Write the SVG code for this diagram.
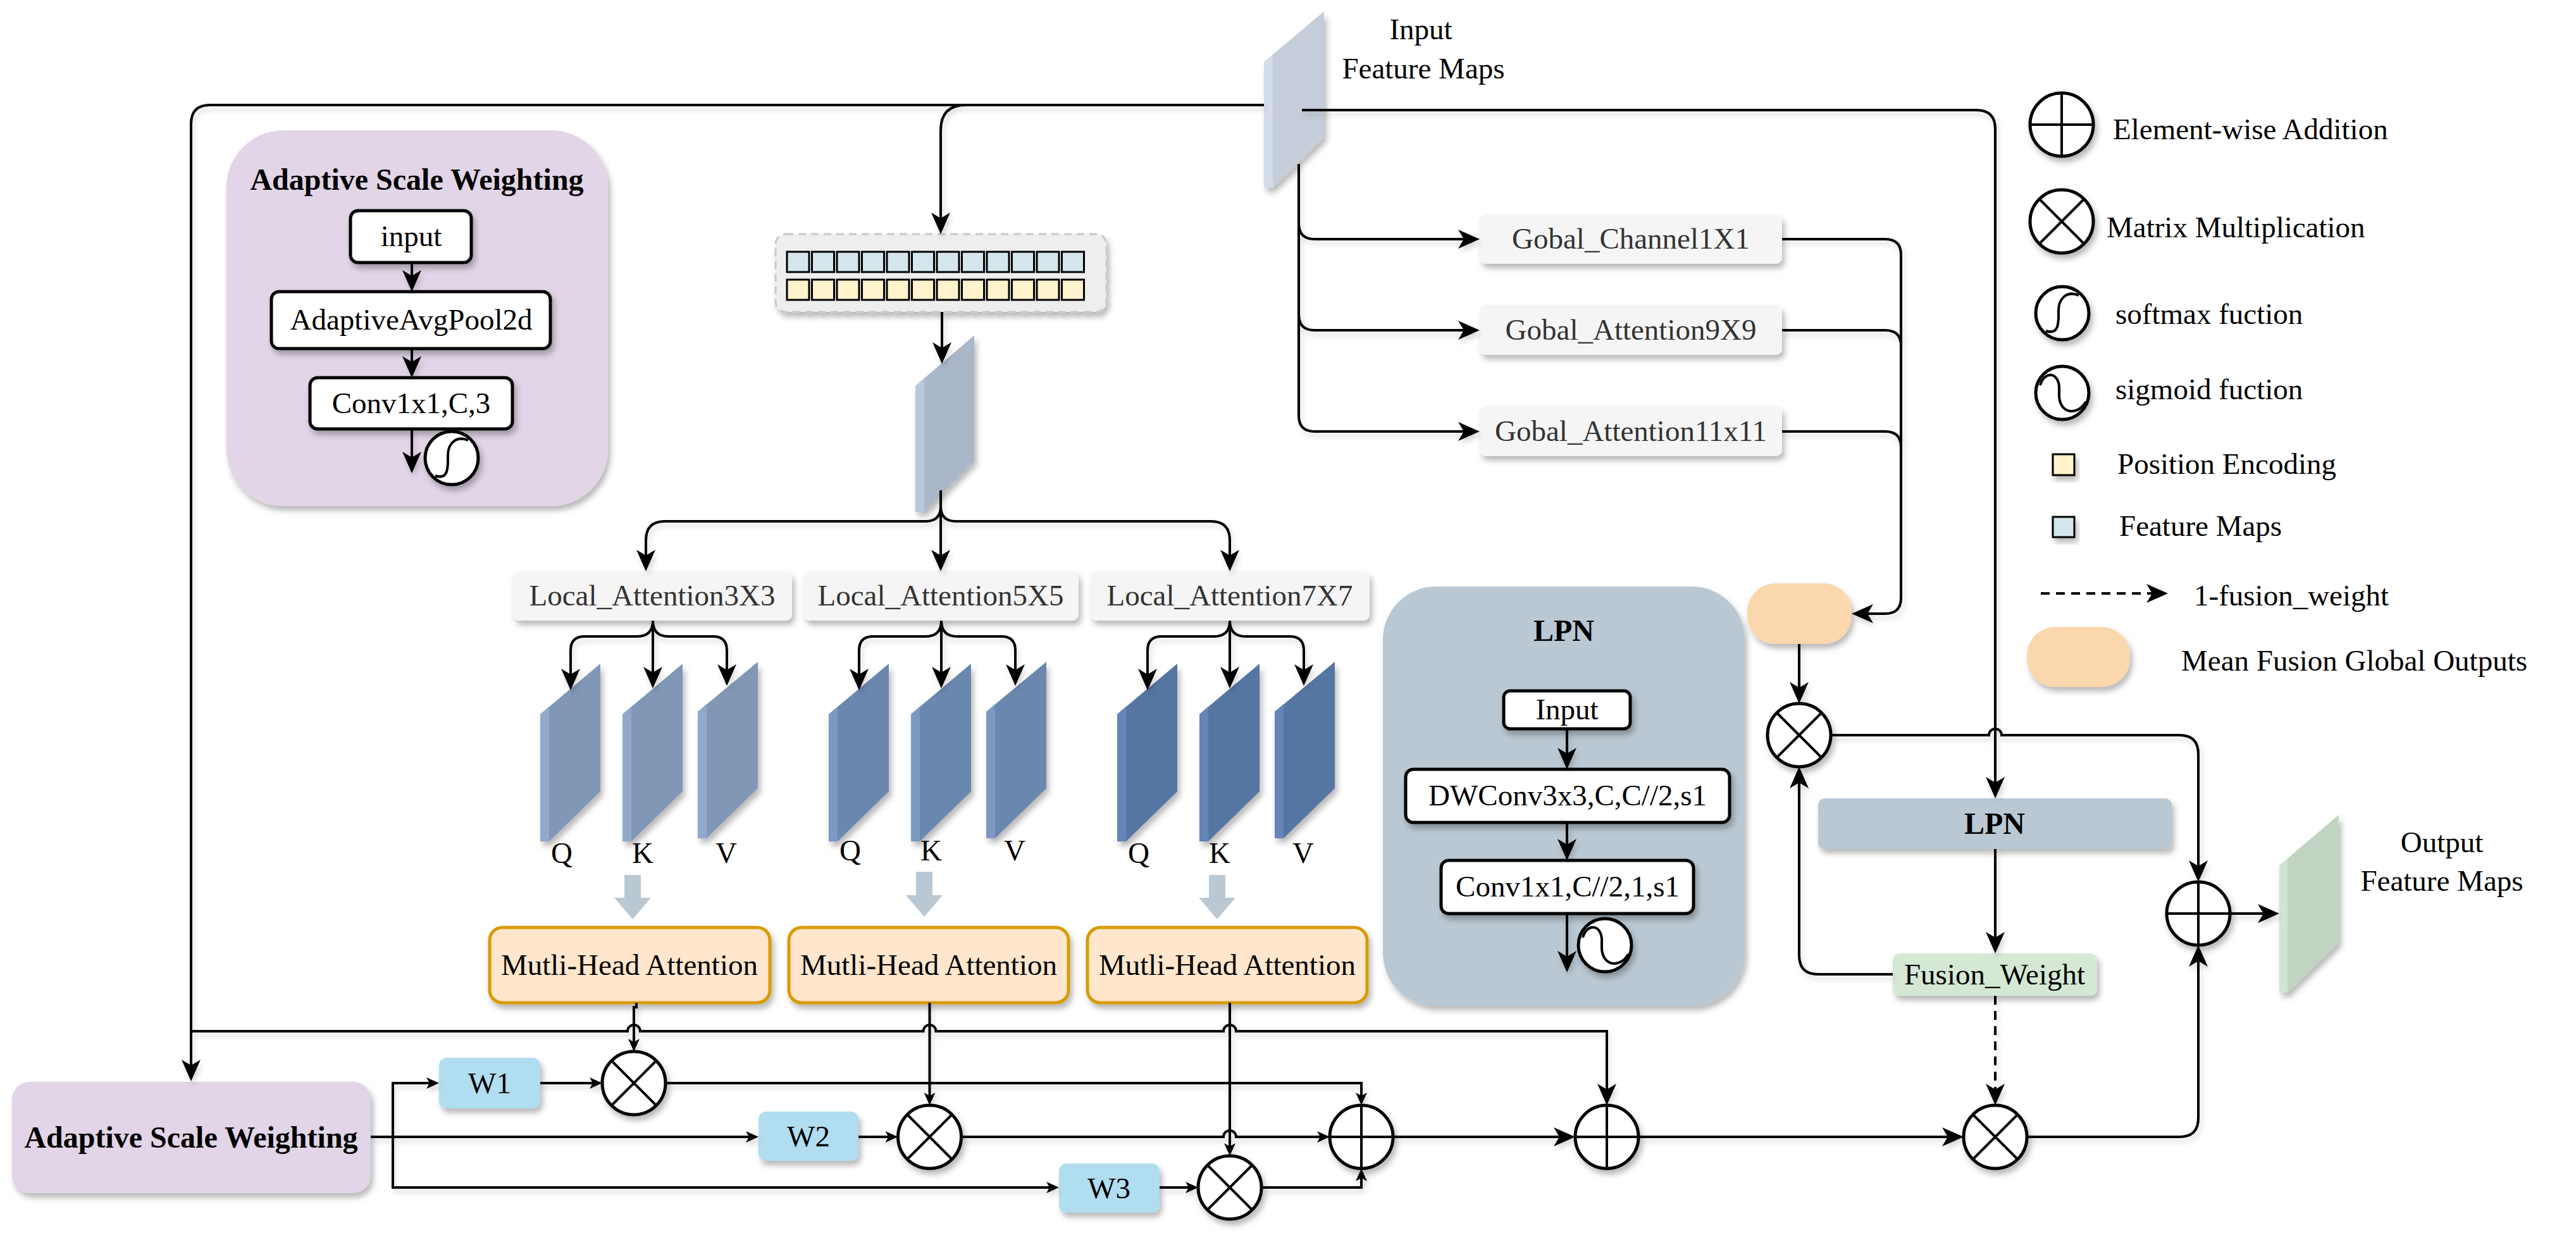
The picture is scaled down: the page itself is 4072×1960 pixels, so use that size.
<svg xmlns="http://www.w3.org/2000/svg" width="4072" height="1960" viewBox="0 0 4072 1960">
<defs>
<style>
.t{font-family:"Liberation Serif","Times New Roman",serif;font-size:47px;fill:#000}
.m{text-anchor:middle}
.bd{font-weight:bold;font-size:48px}
.g3{fill:#333}
.ln{fill:none;stroke:#000;stroke-width:4}
.dash{stroke-dasharray:14 10}
.B{marker-end:url(#ab)}
.S{marker-end:url(#as)}
.op circle{fill:#fff;stroke:#000;stroke-width:5}
.op path{fill:none;stroke:#000;stroke-width:4}
.wb{fill:#fff;stroke:#000;stroke-width:5}
.gb{fill:#f5f5f5}
.mha{fill:#ffe6cc;stroke:#d79b00;stroke-width:5}
.wbx{fill:#b1ddf0}
.sd{filter:url(#sh)}
.tb{fill:#d4e6ec;stroke:#000;stroke-width:3}
.ty{fill:#fff2cc;stroke:#000;stroke-width:3}
.barrow{fill:#bac8d3}
</style>
<filter id="sh" x="-15%" y="-15%" width="140%" height="150%"><feDropShadow dx="4" dy="7" stdDeviation="5" flood-color="#000" flood-opacity="0.28"/></filter>
<filter id="shl" filterUnits="userSpaceOnUse" x="0" y="0" width="4072" height="1960"><feDropShadow dx="3" dy="6" stdDeviation="4" flood-color="#000" flood-opacity="0.16"/></filter>
<marker id="ab" markerUnits="userSpaceOnUse" markerWidth="34" markerHeight="30" viewBox="0 0 34 30" refX="26" refY="15" orient="auto"><path d="M0,0 L34,15 L0,30 L9,15 Z" fill="#000"/></marker>
<marker id="as" markerUnits="userSpaceOnUse" markerWidth="20" markerHeight="18" viewBox="0 0 20 18" refX="14" refY="9" orient="auto"><path d="M0,0 L20,9 L0,18 L5,9 Z" fill="#000"/></marker>
</defs>
<rect width="4072" height="1960" fill="#fff"/>

<g id="nodes">
<!-- Input feature maps -->
<g id="input-fm" class="sd">
<polygon points="1998,98 2093,18 2093,217 2012,297 1998,297" fill="#c4cdd9"/>
<polygon points="1998,98 2012,86 2012,297 1998,297" fill="#d3dde9"/>
</g>
<g id="input-label">
<text class="t m" x="2246" y="62">Input</text>
<text class="t m" x="2250" y="124">Feature Maps</text>
</g>

<!-- Adaptive Scale Weighting panel -->
<g id="asw-panel">
<rect class="sd" x="358" y="206" width="603" height="594" rx="90" fill="#e1d5e7"/>
<text class="t m bd" x="659" y="300">Adaptive Scale Weighting</text>
<rect class="wb sd" x="554" y="333" width="191" height="82" rx="12"/>
<text class="t m" x="650" y="389">input</text>
<rect class="wb sd" x="429" y="461" width="441" height="90" rx="12"/>
<text class="t m" x="650" y="521">AdaptiveAvgPool2d</text>
<rect class="wb sd" x="490" y="597" width="320" height="81" rx="12"/>
<text class="t m" x="650" y="653">Conv1x1,C,3</text>
<g class="op sd"><circle cx="714" cy="724" r="42"/><path d="M688,752 C706,758 708,744 708,728 L708,720 C708,700 722,688 740,696"/></g>
</g>

<!-- Tokens -->
<g id="tokens">
<rect class="sd" x="1226" y="370" width="523" height="123" rx="16" fill="#eeeeee" stroke="#c8c8c8" stroke-width="3" stroke-dasharray="12 8"/>
<rect class="tb" x="1244" y="398" width="35" height="32"/><rect class="tb" x="1283.5" y="398" width="35" height="32"/><rect class="tb" x="1323" y="398" width="35" height="32"/><rect class="tb" x="1362.5" y="398" width="35" height="32"/><rect class="tb" x="1402" y="398" width="35" height="32"/><rect class="tb" x="1441.5" y="398" width="35" height="32"/><rect class="tb" x="1481" y="398" width="35" height="32"/><rect class="tb" x="1520.5" y="398" width="35" height="32"/><rect class="tb" x="1560" y="398" width="35" height="32"/><rect class="tb" x="1599.5" y="398" width="35" height="32"/><rect class="tb" x="1639" y="398" width="35" height="32"/><rect class="tb" x="1678.5" y="398" width="35" height="32"/>
<rect class="ty" x="1244" y="442" width="35" height="32"/><rect class="ty" x="1283.5" y="442" width="35" height="32"/><rect class="ty" x="1323" y="442" width="35" height="32"/><rect class="ty" x="1362.5" y="442" width="35" height="32"/><rect class="ty" x="1402" y="442" width="35" height="32"/><rect class="ty" x="1441.5" y="442" width="35" height="32"/><rect class="ty" x="1481" y="442" width="35" height="32"/><rect class="ty" x="1520.5" y="442" width="35" height="32"/><rect class="ty" x="1560" y="442" width="35" height="32"/><rect class="ty" x="1599.5" y="442" width="35" height="32"/><rect class="ty" x="1639" y="442" width="35" height="32"/><rect class="ty" x="1678.5" y="442" width="35" height="32"/>
</g>

<!-- middle feature map -->
<g id="mid-fm" class="sd">
<polygon points="1447,610 1540,530 1540,729 1461,809 1447,809" fill="#aab7c9"/>
<polygon points="1447,610 1461,598 1461,809 1447,809" fill="#b9c8dc"/>
</g>

<!-- Gobal boxes -->
<g id="gobal-1x1"><rect class="gb sd" x="2339" y="339" width="478" height="78" rx="10"/><text class="t m g3" x="2578" y="393">Gobal_Channel1X1</text></g>
<g id="gobal-9x9"><rect class="gb sd" x="2339" y="482" width="478" height="79" rx="10"/><text class="t m g3" x="2578" y="537">Gobal_Attention9X9</text></g>
<g id="gobal-11x11"><rect class="gb sd" x="2339" y="642" width="478" height="79" rx="10"/><text class="t m g3" x="2578" y="697">Gobal_Attention11x11</text></g>

<!-- Local boxes -->
<g id="local-3x3"><rect class="gb sd" x="811" y="903" width="441" height="78" rx="10"/><text class="t m g3" x="1031" y="957">Local_Attention3X3</text></g>
<g id="local-5x5"><rect class="gb sd" x="1270" y="903" width="435" height="78" rx="10"/><text class="t m g3" x="1487" y="957">Local_Attention5X5</text></g>
<g id="local-7x7"><rect class="gb sd" x="1724" y="903" width="441" height="78" rx="10"/><text class="t m g3" x="1944" y="957">Local_Attention7X7</text></g>

<!-- QKV 3x3 -->
<g id="qkv-3x3">
<g class="sd"><polygon points="854,1129 949,1049 949,1251 868,1330 854,1330" fill="#8098b6"/><polygon points="854,1129 868,1117 868,1330 854,1330" fill="#91aacb"/></g>
<g class="sd"><polygon points="984,1129 1079,1049 1079,1251 998,1330 984,1330" fill="#8098b6"/><polygon points="984,1129 998,1117 998,1330 984,1330" fill="#91aacb"/></g>
<g class="sd"><polygon points="1103,1125 1198,1046 1198,1246 1117,1325 1103,1325" fill="#8098b6"/><polygon points="1103,1125 1117,1113 1117,1325 1103,1325" fill="#91aacb"/></g>
<text class="t m" x="888" y="1364">Q</text><text class="t m" x="1016" y="1364">K</text><text class="t m" x="1148" y="1364">V</text>
<polygon class="barrow" points="987,1383 1013,1383 1013,1419 1029,1419 1000,1453 971,1419 987,1419"/>
</g>
<!-- QKV 5x5 -->
<g id="qkv-5x5">
<g class="sd"><polygon points="1310,1129 1405,1049 1405,1251 1324,1330 1310,1330" fill="#6a87ae"/><polygon points="1310,1129 1324,1117 1324,1330 1310,1330" fill="#7b99c3"/></g>
<g class="sd"><polygon points="1440,1129 1535,1049 1535,1251 1454,1330 1440,1330" fill="#6a87ae"/><polygon points="1440,1129 1454,1117 1454,1330 1440,1330" fill="#7b99c3"/></g>
<g class="sd"><polygon points="1559,1125 1654,1046 1654,1246 1573,1325 1559,1325" fill="#6a87ae"/><polygon points="1559,1125 1573,1113 1573,1325 1559,1325" fill="#7b99c3"/></g>
<text class="t m" x="1344" y="1360">Q</text><text class="t m" x="1472" y="1360">K</text><text class="t m" x="1604" y="1360">V</text>
<polygon class="barrow" points="1448,1378 1474,1378 1474,1415 1490,1415 1461,1449 1432,1415 1448,1415"/>
</g>
<!-- QKV 7x7 -->
<g id="qkv-7x7">
<g class="sd"><polygon points="1766,1129 1861,1049 1861,1251 1780,1330 1766,1330" fill="#5576a2"/><polygon points="1766,1129 1780,1117 1780,1330 1766,1330" fill="#6584b7"/></g>
<g class="sd"><polygon points="1896,1129 1991,1049 1991,1251 1910,1330 1896,1330" fill="#5576a2"/><polygon points="1896,1129 1910,1117 1910,1330 1896,1330" fill="#6584b7"/></g>
<g class="sd"><polygon points="2015,1125 2110,1046 2110,1246 2029,1325 2015,1325" fill="#5576a2"/><polygon points="2015,1125 2029,1113 2029,1325 2015,1325" fill="#6584b7"/></g>
<text class="t m" x="1800" y="1364">Q</text><text class="t m" x="1928" y="1364">K</text><text class="t m" x="2060" y="1364">V</text>
<polygon class="barrow" points="1911,1383 1937,1383 1937,1419 1953,1419 1924,1453 1895,1419 1911,1419"/>
</g>

<!-- MHA -->
<g id="mha-1"><rect class="mha sd" x="774" y="1466" width="443" height="119" rx="20"/><text class="t m" x="995" y="1541">Mutli-Head Attention</text></g>
<g id="mha-2"><rect class="mha sd" x="1247" y="1466" width="442" height="119" rx="20"/><text class="t m" x="1468" y="1541">Mutli-Head Attention</text></g>
<g id="mha-3"><rect class="mha sd" x="1719" y="1466" width="442" height="119" rx="20"/><text class="t m" x="1940" y="1541">Mutli-Head Attention</text></g>

<!-- LPN panel -->
<g id="lpn-panel">
<rect class="sd" x="2186" y="927" width="572" height="663" rx="84" fill="#bac8d3"/>
<text class="t m bd" x="2472" y="1013">LPN</text>
<rect class="wb sd" x="2377" y="1092" width="200" height="60" rx="10"/>
<text class="t m" x="2477" y="1137">Input</text>
<rect class="wb sd" x="2222" y="1216" width="512" height="84" rx="12"/>
<text class="t m" x="2478" y="1273">DWConv3x3,C,C//2,s1</text>
<rect class="wb sd" x="2278" y="1360" width="399" height="84" rx="12"/>
<text class="t m" x="2478" y="1417">Conv1x1,C//2,1,s1</text>
<g class="op sd"><circle cx="2537" cy="1494" r="42"/><path d="M2502,1482 C2508,1460 2530,1460 2532,1484 L2532,1500 C2534,1528 2562,1530 2574,1508"/></g>
</g>

<!-- W boxes -->
<g id="w1"><rect class="wbx sd" x="694" y="1672" width="160" height="80" rx="12"/><text class="t m" x="774" y="1728">W1</text></g>
<g id="w2"><rect class="wbx sd" x="1199" y="1757" width="158" height="78" rx="12"/><text class="t m" x="1278" y="1812">W2</text></g>
<g id="w3"><rect class="wbx sd" x="1674" y="1839" width="159" height="78" rx="12"/><text class="t m" x="1753" y="1894">W3</text></g>

<!-- Bottom ASW -->
<g id="asw-bottom"><rect class="sd" x="19" y="1710" width="567" height="176" rx="28" fill="#e1d5e7"/><text class="t m bd" x="302" y="1814">Adaptive Scale Weighting</text></g>

<!-- operators -->
<g id="mul-1" class="op sd"><circle cx="1002" cy="1712" r="50"/><path d="M967,1677 L1037,1747 M1037,1677 L967,1747"/></g>
<g id="mul-2" class="op sd"><circle cx="1469.5" cy="1797" r="50"/><path d="M1434.5,1762 L1504.5,1832 M1504.5,1762 L1434.5,1832"/></g>
<g id="mul-3" class="op sd"><circle cx="1944" cy="1877" r="50"/><path d="M1909,1842 L1979,1912 M1979,1842 L1909,1912"/></g>
<g id="add-1" class="op sd"><circle cx="2152" cy="1797" r="50"/><path d="M2152,1747 L2152,1847 M2102,1797 L2202,1797"/></g>
<g id="add-2" class="op sd"><circle cx="2540" cy="1797" r="50"/><path d="M2540,1747 L2540,1847 M2490,1797 L2590,1797"/></g>
<g id="mul-bottom" class="op sd"><circle cx="3154" cy="1797" r="50"/><path d="M3119,1762 L3189,1832 M3189,1762 L3119,1832"/></g>
<g id="mul-top" class="op sd"><circle cx="2844" cy="1162" r="50"/><path d="M2809,1127 L2879,1197 M2879,1127 L2809,1197"/></g>
<g id="add-out" class="op sd"><circle cx="3475" cy="1444" r="50"/><path d="M3475,1394 L3475,1494 M3425,1444 L3525,1444"/></g>

<!-- Mean fusion -->
<g id="mean-fusion"><rect class="sd" x="2762" y="922" width="165" height="96" rx="45" fill="#fad7ac"/></g>
<!-- LPN bar -->
<g id="lpn-bar"><rect class="sd" x="2874" y="1262" width="559" height="80" rx="10" fill="#bac8d3"/><text class="t m bd" x="3153" y="1318">LPN</text></g>
<!-- Fusion weight -->
<g id="fusion-weight"><rect class="sd" x="2992" y="1507" width="323" height="67" rx="10" fill="#d5e8d4"/><text class="t m" x="3153" y="1556">Fusion_Weight</text></g>

<!-- Output -->
<g id="output-fm" class="sd">
<polygon points="3603,1368 3697,1288 3697,1490 3616,1569 3603,1569" fill="#c1d4c1"/>
<polygon points="3603,1368 3616,1357 3616,1569 3603,1569" fill="#d1e3d1"/>
</g>
<g id="output-label"><text class="t m" x="3860" y="1347">Output</text><text class="t m" x="3860" y="1408">Feature Maps</text></g>

<!-- Legend -->
<g id="legend">
<g class="op sd"><circle cx="3259" cy="197" r="50"/><path d="M3259,147 L3259,247 M3209,197 L3309,197"/></g>
<text class="t" x="3340" y="220">Element-wise Addition</text>
<g class="op sd"><circle cx="3259" cy="350" r="50"/><path d="M3224,315 L3294,385 M3294,315 L3224,385"/></g>
<text class="t" x="3330" y="375">Matrix Multiplication</text>
<g class="op sd"><circle cx="3260" cy="495" r="42"/><path d="M3234,523 C3252,529 3254,515 3254,499 L3254,491 C3254,471 3268,459 3286,467"/></g>
<text class="t" x="3344" y="512">softmax fuction</text>
<g class="op sd"><circle cx="3260" cy="621" r="42"/><path d="M3225,609 C3231,587 3253,587 3255,611 L3255,627 C3257,655 3285,657 3297,635"/></g>
<text class="t" x="3344" y="631">sigmoid fuction</text>
<rect class="ty sd" x="3245" y="718" width="34" height="33"/>
<text class="t" x="3347" y="749">Position Encoding</text>
<rect class="tb sd" x="3245" y="817" width="34" height="32"/>
<text class="t" x="3350" y="847">Feature Maps</text>
<path class="ln dash B" d="M3226,938 L3419,938"/>
<text class="t" x="3468" y="957">1-fusion_weight</text>
<rect class="sd" x="3204" y="991" width="163" height="95" rx="45" fill="#fad7ac"/>
<text class="t" x="3448" y="1060">Mean Fusion Global Outputs</text>
</g>
</g>

<g id="connectors" filter="url(#shl)">
<!-- input main lines -->
<path class="ln B" d="M1998,166 L332,166 Q302,166 302,196 L302,1701"/>
<path class="ln B" d="M1527,166 Q1487,166 1487,206 L1487,362"/>
<path class="ln B" d="M1489,493 L1489,567"/>
<path class="ln B" d="M1487,775 L1487,895"/>
<path class="ln B" d="M1487,800 Q1487,824 1463,824 L1051,824 Q1021,824 1021,854 L1021,895"/>
<path class="ln B" d="M1487,800 Q1487,824 1511,824 L1914,824 Q1944,824 1944,854 L1944,895"/>
<!-- local braces -->
<path class="ln B" d="M1032,981 L1032,1080"/>
<path class="ln B" d="M1032,981 Q1032,1006 1007,1006 L924,1006 Q902,1006 902,1028 L902,1083"/>
<path class="ln B" d="M1032,981 Q1032,1006 1057,1006 L1127,1006 Q1149,1006 1149,1028 L1149,1076"/>
<path class="ln B" d="M1488,981 L1488,1080"/>
<path class="ln B" d="M1488,981 Q1488,1006 1463,1006 L1380,1006 Q1358,1006 1358,1028 L1358,1083"/>
<path class="ln B" d="M1488,981 Q1488,1006 1513,1006 L1583,1006 Q1605,1006 1605,1028 L1605,1076"/>
<path class="ln B" d="M1944,981 L1944,1080"/>
<path class="ln B" d="M1944,981 Q1944,1006 1919,1006 L1836,1006 Q1814,1006 1814,1028 L1814,1083"/>
<path class="ln B" d="M1944,981 Q1944,1006 1969,1006 L2039,1006 Q2061,1006 2061,1028 L2061,1076"/>
<!-- ASW panel arrows -->
<path class="ln B" d="M651,415 L651,453"/>
<path class="ln B" d="M651,551 L651,589"/>
<path class="ln B" d="M651,678 L651,740"/>
<!-- LPN panel arrows -->
<path class="ln B" d="M2477,1152 L2477,1208"/>
<path class="ln B" d="M2477,1300 L2477,1352"/>
<path class="ln B" d="M2477,1444 L2477,1529"/>
<!-- right input line -->
<path class="ln B" d="M2058,174 L3124,174 Q3154,174 3154,204 L3154,1254"/>
<!-- gobal inputs -->
<path class="ln B" d="M2053,259 L2053,657 Q2053,682 2078,682 L2331,682"/>
<path class="ln B" d="M2053,353 Q2053,378 2078,378 L2331,378"/>
<path class="ln B" d="M2053,497 Q2053,522 2078,522 L2331,522"/>
<!-- gobal outputs -->
<path class="ln B" d="M2817,378 L2980,378 Q3005,378 3005,403 L3005,945 Q3005,970 2980,970 L2935,970"/>
<path class="ln" d="M2817,522 L2980,522 Q3005,522 3005,547"/>
<path class="ln" d="M2817,682 L2980,682 Q3005,682 3005,707"/>
<!-- fusion area -->
<path class="ln B" d="M2844,1018 L2844,1104"/>
<path class="ln B" d="M2992,1540 L2874,1540 Q2844,1540 2844,1510 L2844,1220"/>
<path class="ln B" d="M2894,1162 L3144,1162 A10,10 0 0 1 3164,1162 L3445,1162 Q3475,1162 3475,1192 L3475,1386"/>
<path class="ln B" d="M3154,1342 L3154,1499"/>
<path class="ln dash B" d="M3154,1574 L3154,1739"/>
<path class="ln B" d="M3204,1797 L3445,1797 Q3475,1797 3475,1767 L3475,1502"/>
<path class="ln B" d="M3525,1444 L3595,1444"/>
<!-- bottom -->
<path class="ln B" d="M302,1630 L992,1630 A10,10 0 0 1 1012,1630 L1459.5,1630 A10,10 0 0 1 1479.5,1630 L1934,1630 A10,10 0 0 1 1954,1630 L2540,1630 L2540,1739"/>
<path class="ln S" d="M1006,1585 L1006,1592 L1002,1592 L1002,1656"/>
<path class="ln S" d="M1469.5,1585 L1469.5,1741"/>
<path class="ln S" d="M1944,1585 L1944,1821"/>
<path class="ln S" d="M586,1797 L1193,1797"/>
<path class="ln S" d="M621,1797 L621,1712 L688,1712"/>
<path class="ln S" d="M621,1797 L621,1877 L1668,1877"/>
<path class="ln S" d="M854,1712 L946,1712"/>
<path class="ln S" d="M1357,1797 L1413.5,1797"/>
<path class="ln S" d="M1833,1877 L1888,1877"/>
<path class="ln S" d="M1052,1712 L2152,1712 L2152,1741"/>
<path class="ln S" d="M1519.5,1797 L1934,1797 A10,10 0 0 1 1954,1797 L2096,1797"/>
<path class="ln S" d="M1994,1877 L2152,1877 L2152,1853"/>
<path class="ln B" d="M2202,1797 L2482,1797"/>
<path class="ln B" d="M2590,1797 L3096,1797"/>
</g>
</svg>
